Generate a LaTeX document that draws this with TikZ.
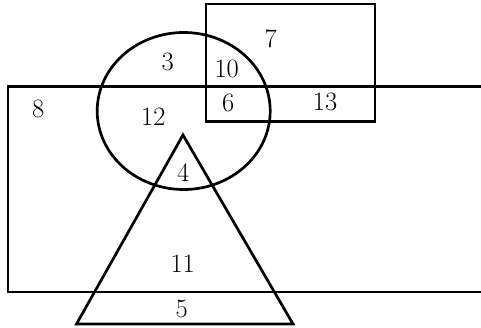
\documentclass[tikz,border=0pt]{standalone}
\usepackage{fontspec}
\begin{document}
\begin{tikzpicture}[x=1pt,y=-1pt,
  shape line/.style={line width=2.7pt, line join=miter},
  lbl/.style={font=\fontsize{26.5}{26.5}\selectfont, inner sep=0pt}]
\useasboundingbox (0,0) rectangle (481,328);
\clip (0,0) rectangle (481,328);
% big rectangle (right side beyond picture)
\draw[shape line] (490,86.5) -- (8,86.5) -- (8,292) -- (490,292);
% small rectangle
\draw[shape line] (206,4) rectangle (375,121.5);
% circle
\draw[shape line] (183.7,111) ellipse [x radius=86.5, y radius=78.5];
% triangle
\draw[shape line] (183,135) -- (293,324) -- (76.5,324) -- cycle;
% labels
\node[lbl] (n3) at (167.7,62) {3};
\node[lbl] (n7) at (270.7,38.5) {7};
\node[lbl] (n10) at (226.7,68.5) {10};
\node[lbl] (n8) at (38.3,108.5) {8};
\node[lbl] (n12) at (153.3,117) {12};
\node[lbl] (n6) at (228.3,102.5) {6};
\node[lbl] (n13) at (325,101.5) {13};
\node[lbl] (n4) at (183.3,173) {4};
\node[lbl] (n11) at (182.7,263.5) {11};
\node[lbl] (n5) at (181.7,309) {5};
\end{tikzpicture}
\end{document}
